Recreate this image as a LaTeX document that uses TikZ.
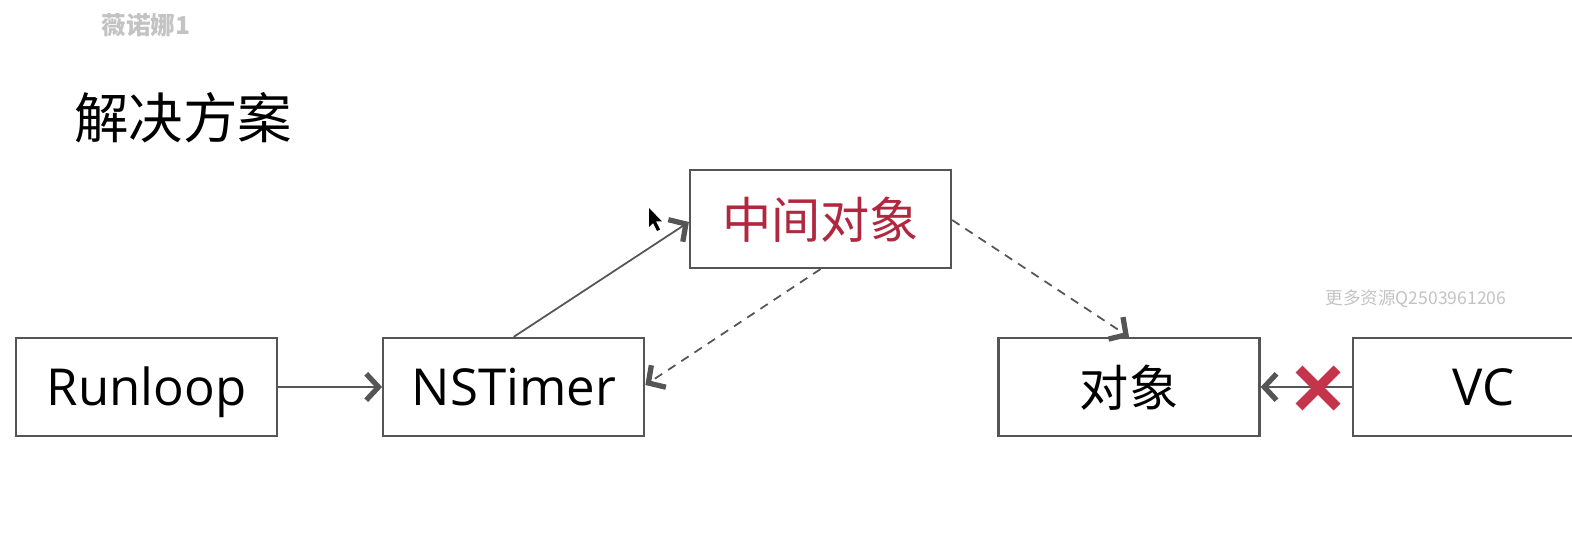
\documentclass[tikz,border=0pt]{standalone}
\usepackage{fontspec}
\setmainfont{Open Sans}
\newfontfamily\cjk{Noto Sans CJK SC}
\usetikzlibrary{positioning, arrows.meta}
\definecolor{boxgray}{RGB}{85, 85, 85}
\definecolor{markred}{RGB}{196, 52, 74}
\definecolor{titlered}{RGB}{176, 40, 63}
\definecolor{wmgray}{RGB}{195, 195, 195}

\begin{document}
\begin{tikzpicture}[x=0.02cm, y=-0.02cm,
        block/.style={draw=boxgray, line width=1.3pt, minimum width=5.22cm,
                      minimum height=1.96cm, inner sep=0pt,
                      font=\fontsize{29}{32}\selectfont, text height=21pt, text depth=-2pt},
        cjkblock/.style={block, font=\cjk\fontsize{28}{31}\selectfont,
                         text height=24pt, text depth=2pt},
        link/.style={draw=boxgray, line width=1pt,
                     -{Straight Barb[length=7pt, width=15pt, line width=3pt]}},
        dlink/.style={link, dash pattern=on 5pt off 4pt}]
    \useasboundingbox (0,0) rectangle (1572,560);
    \clip (0,0) rectangle (1572,560);

    % watermarks and title
    \node[text=wmgray, font=\cjk\bfseries\fontsize{14}{16}\selectfont] (wm) at (146,25) {薇诺娜1};
    \node[text=wmgray, font=\cjk\fontsize{10}{12}\selectfont, inner sep=0pt] (qq) at (1416,299) {更多资源Q2503961206};
    \node[anchor=west, font=\cjk\fontsize{31}{35}\selectfont, inner sep=0pt] (title) at (74,118) {解决方案};

    % boxes
    \node[block] (runloop) at (146.5,387) {Runloop};
    \node[block, right=104*0.02cm of runloop] (timer) {NSTimer};
    \node[cjkblock, text=titlered] (proxy) at (820.5,219) {中间对象};
    \node[cjkblock] (target) at (1129,387) {对象};
    \node[block, right=91*0.02cm of target] (vc) {VC};

    % connections
    \draw[link] (runloop) -- (timer);
    \draw[link] (timer.north) -- (proxy.west |- 0,222);
    \draw[dlink] (proxy.south) -- (timer.east |- 0,385);
    \draw[dlink] (proxy.east |- 0,220) -- (target.north);
    \draw[link] (vc) -- (target);

    % broken reference
    \coordinate (cross) at (1318,388);
    \draw[markred, line width=5.5pt] ([shift={(-19,-19)}]cross) -- ([shift={(19,19)}]cross)
                                     ([shift={(-19,19)}]cross) -- ([shift={(19,-19)}]cross);

    % mouse pointer
    \coordinate (cursor) at (649,208);
    \fill[black] (cursor) -- ++(0,19) -- ++(4,-4) -- ++(4,8) -- ++(3,-1.5) -- ++(-4,-8) -- ++(6,0) -- cycle;
\end{tikzpicture}
\end{document}
